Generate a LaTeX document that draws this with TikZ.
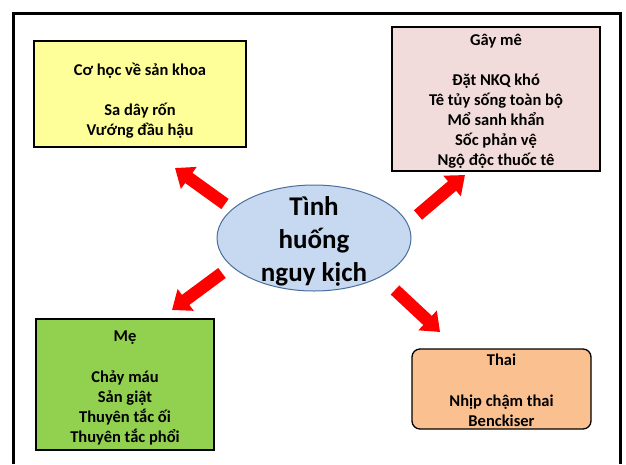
\documentclass[tikz,border=0pt]{standalone}
\usepackage{fontspec}
\setmainfont{Carlito}
\usepackage{tikz}
\usetikzlibrary{arrows.meta,shapes.geometric}
\definecolor{PaleYellow}{HTML}{FFFF99}
\definecolor{PalePink}  {HTML}{F2DCDB}
\definecolor{LeafGreen} {HTML}{92D050}
\definecolor{Peach}     {HTML}{FAC090}
\definecolor{SkyFill}   {HTML}{C6D9F1}
\definecolor{SkyEdge}   {HTML}{4A6E9B}
\definecolor{AlarmRed}  {HTML}{FF0000}

\begin{document}
\begin{tikzpicture}[x=1pt,y=-1pt,
          every node/.style={font=\fontsize{16.5}{20}\selectfont\bfseries,
                             align=center,inner sep=0pt},
          box/.style={rectangle,draw=black,line width=1.3pt},
          bigarrow/.style={draw=AlarmRed,line width=12.5pt,
                           -{Triangle[width=26pt,length=17pt]}}]
        \useasboundingbox (0,0) rectangle (626,464);
        \draw[line width=3pt] (13,464) -- (13,13) -- (620,13) -- (620,464);
        % centre
        \node[ellipse,draw=SkyEdge,fill=SkyFill,line width=1pt,
              minimum width=194pt,minimum height=106pt] (core) at (314,238) {};
        \node[font=\fontsize{27}{33}\selectfont\bfseries] (coretext) at (314,241)
            {Tình\\huống\\nguy kịch};
        % four groups
        \node[box,fill=PaleYellow,minimum width=212pt,minimum height=106pt] (mech) at (140,94) {};
        \node (mechtext) at (140,101)
            {Cơ học về sản khoa\\[20pt]Sa dây rốn\\Vướng đầu hậu};
        \node[box,fill=PalePink,minimum width=208pt,minimum height=144pt] (anes) at (496,99) {};
        \node (anestext) at (496,101.5)
            {Gây mê\\[20pt]Đặt NKQ khó\\Tê tủy sống toàn bộ\\Mổ sanh khẩn\\Sốc phản vệ\\Ngộ độc thuốc tê};
        \node[box,fill=LeafGreen,minimum width=178pt,minimum height=131pt] (mother) at (125,384.5) {};
        \node (mothertext) at (125,387.5)
            {Mẹ\\[21pt]Chảy máu\\Sản giật\\Thuyên tắc ối\\Thuyên tắc phổi};
        \node[box,fill=Peach,rounded corners=8pt,minimum width=179pt,minimum height=80pt] (fetus) at (501.5,389) {};
        \node (fetustext) at (501.5,390)
            {Thai\\[21pt]Nhịp chậm thai\\Benckiser};
        % arrows
        \coordinate (a1s) at (225,204); \coordinate (a1e) at (175,168);
        \coordinate (a2s) at (418,215); \coordinate (a2e) at (465,175);
        \coordinate (a3s) at (222,273); \coordinate (a3e) at (172,310);
        \coordinate (a4s) at (395,290); \coordinate (a4e) at (440,332);
        \draw[bigarrow] (a1s) -- (a1e);
        \draw[bigarrow] (a2s) -- (a2e);
        \draw[bigarrow] (a3s) -- (a3e);
        \draw[bigarrow] (a4s) -- (a4e);
      \end{tikzpicture}
\end{document}
